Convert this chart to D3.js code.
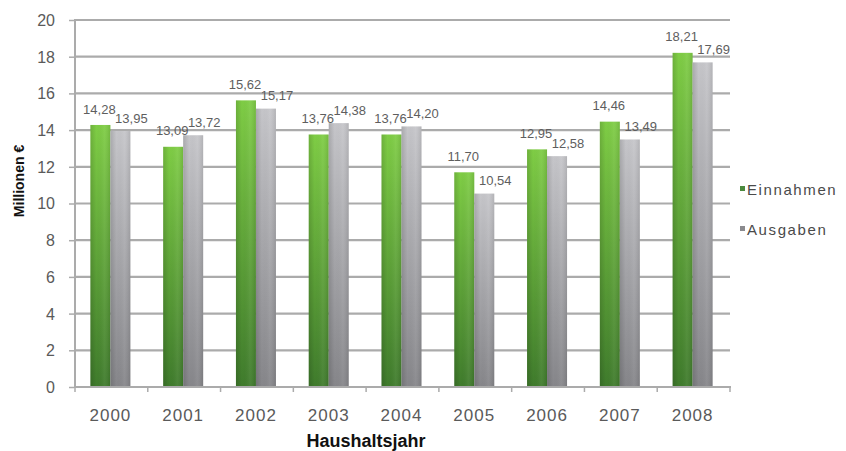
<!DOCTYPE html>
<html>
<head>
<meta charset="utf-8">
<script src="https://cdn.jsdelivr.net/npm/d3@7"></script>
<style>
  html, body { margin: 0; padding: 0; background: #fff; }
  svg { display: block; font-family: "Liberation Sans", Arial, sans-serif; }
</style>
</head>
<body>
<svg id="chart" width="846" height="451"></svg>
<script>
// Haushaltsjahre und Beträge in Millionen €
const years = ["2000", "2001", "2002", "2003", "2004", "2005", "2006", "2007", "2008"];
const einnahmen = [14.28, 13.09, 15.62, 13.76, 13.76, 11.70, 12.95, 14.46, 18.21];
const ausgaben = [13.95, 13.72, 15.17, 14.38, 14.20, 10.54, 12.58, 13.49, 17.69];
const seriesNames = ["Einnahmen", "Ausgaben"];
const yTicks = [0, 2, 4, 6, 8, 10, 12, 14, 16, 18, 20];

const svg = d3.select("#chart");
const fmt = v => d3.format(".2f")(v).replace(".", ",");

const x = d3.scaleBand().domain(years).range([74, 729]).padding(0);
const xs = d3.scaleBand().domain(seriesNames).range([-20, 20]).padding(0);
const y = d3.scaleLinear().domain([0, 20]).range([387, 20]);

// Farbverläufe für die Säulen
const defs = svg.append("defs");
function vGrad(id, top, bottom) {
  const g = defs.append("linearGradient").attr("id", id)
    .attr("x1", 0).attr("y1", 0).attr("x2", 0).attr("y2", 1);
  g.append("stop").attr("offset", "0%").attr("stop-color", top);
  g.append("stop").attr("offset", "100%").attr("stop-color", bottom);
}
vGrad("gEin", "#7fcd45", "#3f7b2c");
vGrad("gAus", "#c6c6ca", "#86868a");
const sh = defs.append("linearGradient").attr("id", "shade")
  .attr("x1", 0).attr("y1", 0).attr("x2", 1).attr("y2", 0);
sh.append("stop").attr("offset", "0%").attr("stop-color", "#000").attr("stop-opacity", 0.14);
sh.append("stop").attr("offset", "30%").attr("stop-color", "#000").attr("stop-opacity", 0);
sh.append("stop").attr("offset", "70%").attr("stop-color", "#fff").attr("stop-opacity", 0.06);
sh.append("stop").attr("offset", "100%").attr("stop-color", "#000").attr("stop-opacity", 0.10);

// Gitternetzlinien und Achsen
const gridColor = "#ababab";
const yAxis = svg.append("g").attr("transform", "translate(74,0)")
  .call(d3.axisLeft(y).tickValues(yTicks).tickSize(5).tickPadding(14));
yAxis.select(".domain").remove();
yAxis.selectAll(".tick line").attr("stroke", gridColor).attr("stroke-width", 1.5);
yAxis.selectAll(".tick text").attr("fill", "#5a5a5a")
  .style("font-size", "16px").attr("dy", "0.34em");

svg.append("g").selectAll("line").data(yTicks.filter(d => d > 0)).join("line")
  .attr("x1", 74).attr("x2", 730)
  .attr("y1", d => y(d)).attr("y2", d => y(d))
  .attr("stroke", gridColor).attr("stroke-width", 2.2);

svg.append("line").attr("x1", 75).attr("x2", 75).attr("y1", y(20)).attr("y2", y(0))
  .attr("stroke", gridColor).attr("stroke-width", 2);

// Säulen
const data = years.map((yr, i) => ({ yr, values: [
  { s: "Einnahmen", v: einnahmen[i] },
  { s: "Ausgaben", v: ausgaben[i] }
]}));

const groups = svg.append("g").selectAll("g").data(data).join("g")
  .attr("transform", d => `translate(${x(d.yr) + x.bandwidth() / 2},0)`);

groups.selectAll("rect.bar").data(d => d.values).join("rect")
  .attr("class", "bar")
  .attr("x", d => xs(d.s)).attr("width", xs.bandwidth())
  .attr("y", d => y(d.v)).attr("height", d => y(0) - y(d.v))
  .attr("fill", d => d.s === "Einnahmen" ? "url(#gEin)" : "url(#gAus)");
groups.selectAll("rect.shade").data(d => d.values).join("rect")
  .attr("class", "shade")
  .attr("x", d => xs(d.s)).attr("width", xs.bandwidth())
  .attr("y", d => y(d.v)).attr("height", d => y(0) - y(d.v))
  .attr("fill", "url(#shade)");

// Datenbeschriftungen
groups.selectAll("text.val").data(d => d.values).join("text")
  .attr("class", "val")
  .attr("x", d => xs(d.s) + xs.bandwidth() / 2 + (d.s === "Ausgaben" ? 11 : -1))
  .attr("y", d => y(d.v) - (d.s === "Einnahmen" ? 16 : 13))
  .attr("dy", "0.35em")
  .attr("text-anchor", "middle")
  .attr("fill", "#5e5e5e")
  .style("font-size", "13px")
  .text(d => fmt(d.v));

// x-Achse
svg.append("line").attr("x1", 74).attr("x2", 731).attr("y1", y(0)).attr("y2", y(0))
  .attr("stroke", gridColor).attr("stroke-width", 2);
const xAxis = svg.append("g").attr("transform", `translate(0,${y(0)})`)
  .call(d3.axisBottom(x).tickSize(0).tickPadding(22));
xAxis.select(".domain").remove();
xAxis.selectAll(".tick text").attr("fill", "#5a5a5a")
  .style("font-size", "17px").style("letter-spacing", "1px");
svg.append("g").selectAll("line")
  .data(years.map(d => x(d)).concat([x(years[years.length - 1]) + x.bandwidth()]))
  .join("line")
  .attr("x1", d => d + 1).attr("x2", d => d + 1)
  .attr("y1", y(0)).attr("y2", y(0) + 5)
  .attr("stroke", gridColor).attr("stroke-width", 1.5);

// Achsentitel
svg.append("text")
  .attr("transform", "translate(24,181) rotate(-90)")
  .attr("text-anchor", "middle")
  .attr("fill", "#111")
  .style("font-size", "14px").style("font-weight", "bold")
  .text("Millionen €");
svg.append("text")
  .attr("x", 366).attr("y", 447)
  .attr("text-anchor", "middle")
  .attr("fill", "#111")
  .style("font-size", "18px").style("font-weight", "bold")
  .text("Haushaltsjahr");

// Legende
const legend = svg.append("g").selectAll("g").data(seriesNames).join("g")
  .attr("transform", (d, i) => `translate(740,${190 + i * 40})`);
legend.append("rect").attr("x", 0).attr("y", -4).attr("width", 5).attr("height", 5)
  .attr("fill", d => d === "Einnahmen" ? "#4b8a3e" : "#8a8a8e");
legend.append("text").attr("x", 7).attr("y", 0).attr("dy", "0.35em")
  .attr("fill", "#4a4a4a")
  .style("font-size", "15px").style("letter-spacing", "1.6px")
  .text(d => d);
</script>
</body>
</html>
